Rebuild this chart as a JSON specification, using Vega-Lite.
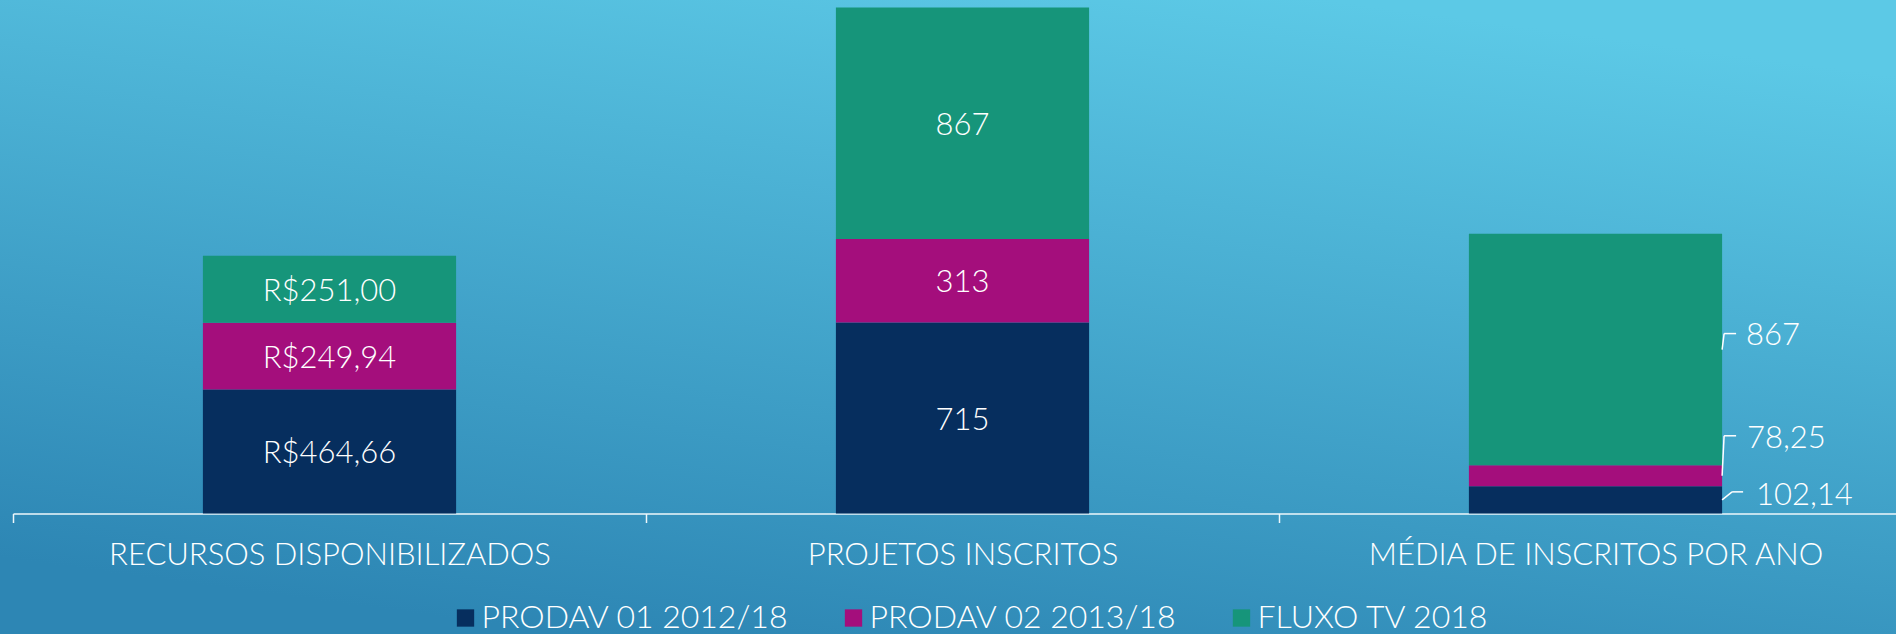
{
  "$schema": "https://vega.github.io/schema/vega-lite/v6.json",
  "width": 1896,
  "height": 634,
  "padding": 0,
  "autosize": {"type": "none"},
  "background": "#3fa3cf",
  "config": {
    "view": {
      "stroke": null,
      "fill": {"gradient": "linear", "x1": 0.7, "y1": 0, "x2": 0.3, "y2": 1,
        "stops": [{"offset": 0, "color": "#5cc9e6"}, {"offset": 1, "color": "#2d86b4"}]}
    },
    "font": "Lato",
    "text": {"font": "Lato", "fontWeight": 300, "color": "white", "fontSize": 31}
  },
  "data": {
    "values": [
      {"category": "RECURSOS DISPONIBILIZADOS", "series": "PRODAV 01 2012/18", "value": 464.66, "label": "R$464,66"},
      {"category": "RECURSOS DISPONIBILIZADOS", "series": "PRODAV 02 2013/18", "value": 249.94, "label": "R$249,94"},
      {"category": "RECURSOS DISPONIBILIZADOS", "series": "FLUXO TV 2018", "value": 251.00, "label": "R$251,00"},
      {"category": "PROJETOS INSCRITOS", "series": "PRODAV 01 2012/18", "value": 715, "label": "715"},
      {"category": "PROJETOS INSCRITOS", "series": "PRODAV 02 2013/18", "value": 313, "label": "313"},
      {"category": "PROJETOS INSCRITOS", "series": "FLUXO TV 2018", "value": 867, "label": "867"},
      {"category": "MÉDIA DE INSCRITOS POR ANO", "series": "PRODAV 01 2012/18", "value": 102.14, "label": "102,14"},
      {"category": "MÉDIA DE INSCRITOS POR ANO", "series": "PRODAV 02 2013/18", "value": 78.25, "label": "78,25"},
      {"category": "MÉDIA DE INSCRITOS POR ANO", "series": "FLUXO TV 2018", "value": 867, "label": "867"}
    ]
  },
  "transform": [
    {"calculate": "indexof(['PRODAV 01 2012/18','PRODAV 02 2013/18','FLUXO TV 2018'], datum.series)", "as": "k"},
    {"stack": "value", "groupby": ["category"], "sort": [{"field": "k", "order": "ascending"}], "as": ["v0", "v1"]},
    {"calculate": "(datum.v0 + datum.v1) / 2", "as": "vmid"}
  ],
  "encoding": {
    "x": {
      "field": "category", "type": "nominal", "sort": null,
      "scale": {"type": "band", "domain": ["RECURSOS DISPONIBILIZADOS", "PROJETOS INSCRITOS", "MÉDIA DE INSCRITOS POR ANO"], "range": [13, 1912], "paddingInner": 0, "paddingOuter": 0},
      "axis": {
        "title": null, "orient": "bottom", "offset": -120.5, "labelAngle": 0,
        "domainColor": "#eef7fb", "domainWidth": 1.5, "tickColor": "#eef7fb", "tickWidth": 1.5, "tickSize": 9,
        "tickBand": "extent", "labelFont": "Lato", "labelFontWeight": 300, "labelFontSize": 31, "labelColor": "white",
        "labelBaseline": "alphabetic", "labelPadding": 42, "labelLimit": 1000, "labelFlush": false, "labelOverlap": false, "grid": false
      }
    }
  },
  "layer": [
    {
      "mark": {"type": "bar", "width": {"band": 0.4}},
      "encoding": {
        "y": {"field": "v1", "type": "quantitative", "scale": {"domain": [0, 1895], "range": [513.5, 7.5], "nice": false, "zero": false}, "axis": null},
        "y2": {"field": "v0"},
        "color": {
          "field": "series", "type": "nominal",
          "scale": {"domain": ["PRODAV 01 2012/18", "PRODAV 02 2013/18", "FLUXO TV 2018"], "range": ["#062e5e", "#a40e7c", "#16957a"]},
          "legend": {
            "title": null, "orient": "none", "direction": "horizontal", "legendX": 449.5, "legendY": 602,
            "symbolType": "square", "symbolSize": 300, "symbolStrokeWidth": 0, "labelFont": "Lato", "labelFontWeight": 300, "labelFontSize": 32,
            "labelColor": "white", "labelOffset": 0, "columnPadding": 48, "labelLimit": 1000, "padding": 0
          }
        }
      }
    },
    {
      "transform": [{"filter": "datum.category != 'MÉDIA DE INSCRITOS POR ANO'"}],
      "mark": {"type": "text", "baseline": "middle", "align": "center", "dy": 2.5},
      "encoding": {"y": {"field": "vmid", "type": "quantitative"}, "text": {"field": "label"}}
    },
    {
      "transform": [{"filter": "datum.category == 'MÉDIA DE INSCRITOS POR ANO' && datum.series == 'FLUXO TV 2018'"}],
      "mark": {"type": "text", "baseline": "middle", "align": "left", "dx": 24, "dy": -14},
      "encoding": {"x": {"field": "category", "type": "nominal", "bandPosition": 0.7}, "y": {"field": "vmid", "type": "quantitative"}, "text": {"field": "label"}}
    },
    {
      "transform": [{"filter": "datum.category == 'MÉDIA DE INSCRITOS POR ANO' && datum.series == 'PRODAV 02 2013/18'"}],
      "mark": {"type": "text", "baseline": "middle", "align": "left", "dx": 25, "dy": -37},
      "encoding": {"x": {"field": "category", "type": "nominal", "bandPosition": 0.7}, "y": {"field": "vmid", "type": "quantitative"}, "text": {"field": "label"}}
    },
    {
      "transform": [{"filter": "datum.category == 'MÉDIA DE INSCRITOS POR ANO' && datum.series == 'PRODAV 01 2012/18'"}],
      "mark": {"type": "text", "baseline": "middle", "align": "left", "dx": 34, "dy": -4},
      "encoding": {"x": {"field": "category", "type": "nominal", "bandPosition": 0.7}, "y": {"field": "vmid", "type": "quantitative"}, "text": {"field": "label"}}
    },
    {
      "transform": [{"filter": "datum.category == 'MÉDIA DE INSCRITOS POR ANO' && datum.series == 'FLUXO TV 2018'"}],
      "mark": {"type": "rule", "color": "white", "strokeWidth": 1.5, "x2Offset": 2, "y2Offset": -16},
      "encoding": {"x": {"field": "category", "type": "nominal", "bandPosition": 0.7}, "x2": {"field": "category", "bandPosition": 0.7}, "y": {"field": "vmid", "type": "quantitative"}, "y2": {"field": "vmid"}}
    },
    {
      "transform": [{"filter": "datum.category == 'MÉDIA DE INSCRITOS POR ANO' && datum.series == 'FLUXO TV 2018'"}],
      "mark": {"type": "rule", "color": "white", "strokeWidth": 1.5, "xOffset": 2, "x2Offset": 14, "yOffset": -16, "y2Offset": -16},
      "encoding": {"x": {"field": "category", "type": "nominal", "bandPosition": 0.7}, "x2": {"field": "category", "bandPosition": 0.7}, "y": {"field": "vmid", "type": "quantitative"}, "y2": {"field": "vmid"}}
    },
    {
      "transform": [{"filter": "datum.category == 'MÉDIA DE INSCRITOS POR ANO' && datum.series == 'PRODAV 02 2013/18'"}],
      "mark": {"type": "rule", "color": "white", "strokeWidth": 1.5, "x2Offset": 2, "y2Offset": -40},
      "encoding": {"x": {"field": "category", "type": "nominal", "bandPosition": 0.7}, "x2": {"field": "category", "bandPosition": 0.7}, "y": {"field": "vmid", "type": "quantitative"}, "y2": {"field": "vmid"}}
    },
    {
      "transform": [{"filter": "datum.category == 'MÉDIA DE INSCRITOS POR ANO' && datum.series == 'PRODAV 02 2013/18'"}],
      "mark": {"type": "rule", "color": "white", "strokeWidth": 1.5, "xOffset": 2, "x2Offset": 14, "yOffset": -40, "y2Offset": -40},
      "encoding": {"x": {"field": "category", "type": "nominal", "bandPosition": 0.7}, "x2": {"field": "category", "bandPosition": 0.7}, "y": {"field": "vmid", "type": "quantitative"}, "y2": {"field": "vmid"}}
    },
    {
      "transform": [{"filter": "datum.category == 'MÉDIA DE INSCRITOS POR ANO' && datum.series == 'PRODAV 01 2012/18'"}],
      "mark": {"type": "rule", "color": "white", "strokeWidth": 1.5, "x2Offset": 10, "y2Offset": -8},
      "encoding": {"x": {"field": "category", "type": "nominal", "bandPosition": 0.7}, "x2": {"field": "category", "bandPosition": 0.7}, "y": {"field": "vmid", "type": "quantitative"}, "y2": {"field": "vmid"}}
    },
    {
      "transform": [{"filter": "datum.category == 'MÉDIA DE INSCRITOS POR ANO' && datum.series == 'PRODAV 01 2012/18'"}],
      "mark": {"type": "rule", "color": "white", "strokeWidth": 1.5, "xOffset": 10, "x2Offset": 21, "yOffset": -8, "y2Offset": -8},
      "encoding": {"x": {"field": "category", "type": "nominal", "bandPosition": 0.7}, "x2": {"field": "category", "bandPosition": 0.7}, "y": {"field": "vmid", "type": "quantitative"}, "y2": {"field": "vmid"}}
    }
  ]
}
